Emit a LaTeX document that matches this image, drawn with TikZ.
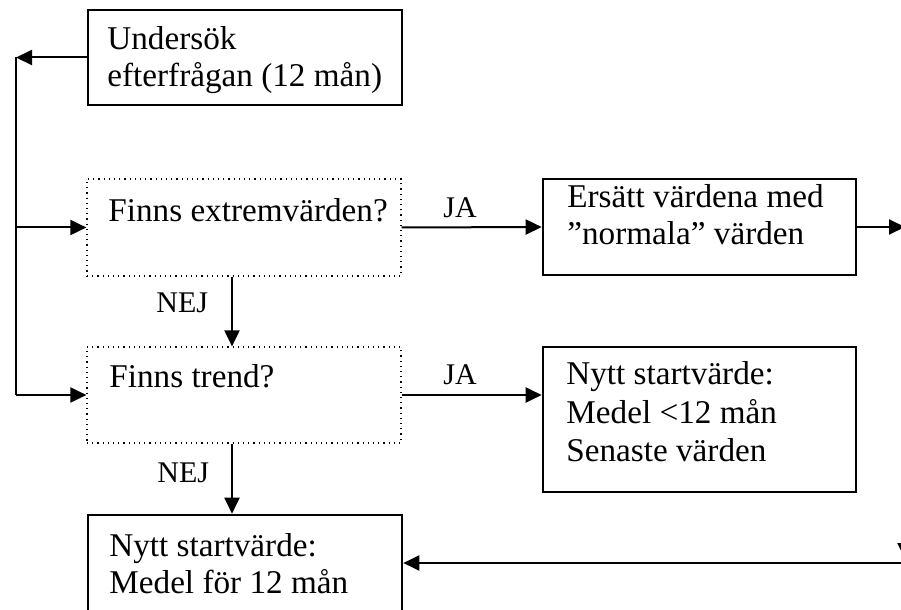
\documentclass[tikz,border=0pt]{standalone}
\usepackage{fontspec}
\setmainfont{Liberation Serif}
\usetikzlibrary{arrows.meta}
\tikzset{
  solidbox/.style={draw, line width=1.3pt, rectangle, inner sep=0pt},
  dotbox/.style={draw, line width=0.6pt, dotted, rectangle, inner sep=0pt},
  txt/.style={anchor=base west, inner sep=0pt, font=\fontsize{16.6pt}{18.5pt}\selectfont},
  lbl/.style={anchor=base west, inner sep=0pt, font=\fontsize{15pt}{18pt}\selectfont},
  conn/.style={line width=1pt, -{Triangle[length=8pt,width=7.5pt]}},
  plain/.style={line width=1pt}
}
\begin{document}
\begin{tikzpicture}[x=0.5pt,y=-0.5pt]
\useasboundingbox (0,0) rectangle (901,610);
\clip (0,0) rectangle (901,610);
% boxes
\node[solidbox, minimum width=157pt, minimum height=47.5pt] (top) at (245,57.5) {};
\node[dotbox, minimum width=157pt, minimum height=48.5pt] (q1) at (244,227.5) {};
\node[dotbox, minimum width=157pt, minimum height=48pt] (q2) at (244,395) {};
\node[solidbox, minimum width=156.5pt, minimum height=48pt] (ers) at (699.5,227) {};
\node[solidbox, minimum width=156.5pt, minimum height=72.5pt] (nyR) at (699.5,419.5) {};
\node[solidbox, minimum width=157pt, minimum height=62.5pt] (nyB) at (245,577.5) {};
% texts
\node[txt] (t1a) at (107,50) {Undersök};
\node[txt] (t1b) at (107,87) {efterfrågan (12 mån)};
\node[txt] (t2) at (108,221) {Finns extremvärden?};
\node[txt] (t3) at (109,387) {Finns trend?};
\node[txt] (t4a) at (567,208) {Ersätt värdena med};
\node[txt] (t4b) at (567,245) {”normala” värden};
\node[txt] (t5a) at (566,384) {Nytt startvärde:};
\node[txt] (t5b) at (566,423) {Medel <12 mån};
\node[txt] (t5c) at (566,461) {Senaste värden};
\node[txt] (t6a) at (109,556) {Nytt startvärde:};
\node[txt] (t6b) at (109,593) {Medel för 12 mån};
% labels
\node[lbl] (ja1) at (443,218) {JA};
\node[lbl] (ja2) at (443,385) {JA};
\node[lbl] (nej1) at (156,313) {NEJ};
\node[lbl] (nej2) at (157,482) {NEJ};
% coordinates
\coordinate (V) at (232,0);
\coordinate (L1) at (16,57.5);
\coordinate (L2) at (16,395);
\coordinate (R1) at (905,227);
\coordinate (R2) at (905,563);
\coordinate (R3) at (905,520);
\coordinate (R4) at (905,559);
% connectors
\draw[conn] (top.west) -- (L1);
\draw[plain] (L1) -- (L2);
\draw[conn] (L1 |- q1.west) -- (q1.west);
\draw[conn] (L2) -- (q2.west);
\draw[conn] (q1.east) -- (ers.west);
\draw[conn] (q2.east) -- (q2.east -| nyR.west);
\draw[conn] (q1.south -| V) -- (q2.north -| V);
\draw[conn] (q2.south -| V) -- (nyB.north -| V);
\draw[conn] (ers.east) -- (R1);
\draw[conn] (R2) -- (R2 -| nyB.east);
\draw[conn] (R3) -- (R4);
\end{tikzpicture}
\end{document}
